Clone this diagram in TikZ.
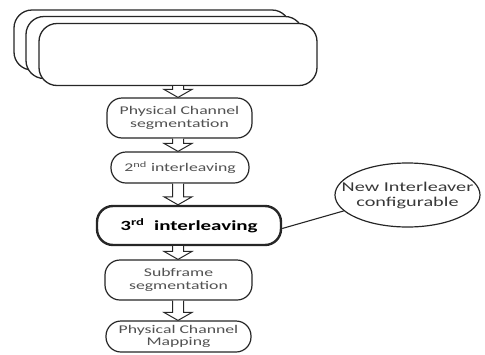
\documentclass[tikz,border=0pt]{standalone}
\usepackage{fontspec}
\setmainfont{Carlito}
\usepackage{graphicx}
\usetikzlibrary{calc,shapes.geometric}
\newcommand\hs[1]{\scalebox{1.5}[1]{#1}}
\newcommand\hollowarrow[2]{%
  \draw[harrow] let \p1=(#1.south -| ax), \p2=(#2.north -| ax) in
    (\x1-5.5pt,\y1) -- (\x1-5.5pt,\y2+8pt) -- (\x1-14pt,\y2+8pt) -- (\x1,\y2)
    -- (\x1+14pt,\y2+8pt) -- (\x1+5.5pt,\y2+8pt) -- (\x1+5.5pt,\y1);}
\begin{document}
\begin{tikzpicture}[x=1pt,y=-1pt,
  stk/.style={draw=black!85, line width=1.3pt, rounded corners=18pt, fill=white, inner sep=0pt},
  box/.style={draw=black!85, line width=1.2pt, rounded corners=15pt, fill=white, inner sep=0pt,
    align=center, font=\fontsize{11.8}{12.5}\selectfont, text=black!68},
  bigbox/.style={box, line width=2.4pt, text=black, font=\fontsize{14}{15}\selectfont\bfseries},
  harrow/.style={draw=black!85, line width=1pt, fill=white, line join=miter},
  ell/.style={ellipse, draw=black!85, line width=1.2pt, inner sep=0pt, align=center,
    font=\fontsize{13.5}{15}\selectfont, text=black!78},
  link/.style={draw=black!85, line width=1.1pt}]
\useasboundingbox (0,0) rectangle (485,354);
\coordinate (ax) at (178,0);
% stacked boxes
\node[stk, minimum width=276pt, minimum height=60pt] (s1) at (152,40) {};
\node[stk, minimum width=277pt, minimum height=62pt] (s2) at (164.5,47.5) {};
\node[stk, minimum width=278pt, minimum height=62pt] (s3) at (178,54.5) {};
% process boxes
\node[box, minimum width=145pt, minimum height=40pt] (pcs) at (179.5,118)
  {\hs{Physical Channel}\\\hs{segmentation}};
\node[box, minimum width=138pt, minimum height=31pt] (int2) at (180,167.5)
  {\hs{2\textsuperscript{nd} interleaving}};
\node[bigbox, rounded corners=16pt, minimum width=184pt, minimum height=39pt] (int3) at (189,225.5)
  {\hs{3\textsuperscript{rd}\ \ interleaving}};
\node[box, minimum width=147pt, minimum height=40pt] (sub) at (178.5,280)
  {\hs{Subframe}\\\hs{segmentation}};
\node[box, minimum width=145pt, minimum height=31pt] (map) at (178.5,336.5)
  {\hs{Physical Channel}\\\hs{Mapping}};
% ellipse
\node[ell, minimum width=145pt, minimum height=64pt] (ell) at (407.5,195)
  {\makebox[0pt]{\hs{New Interleaver}}\\\makebox[0pt]{\hs{configurable}}};
% arrows
\hollowarrow{s3}{pcs}
\hollowarrow{pcs}{int2}
\hollowarrow{int2}{int3}
\hollowarrow{int3}{sub}
\hollowarrow{sub}{map}
% link
\draw[link] ([yshift=-3pt]int3.east) -- (ell.194);
\end{tikzpicture}
\end{document}
